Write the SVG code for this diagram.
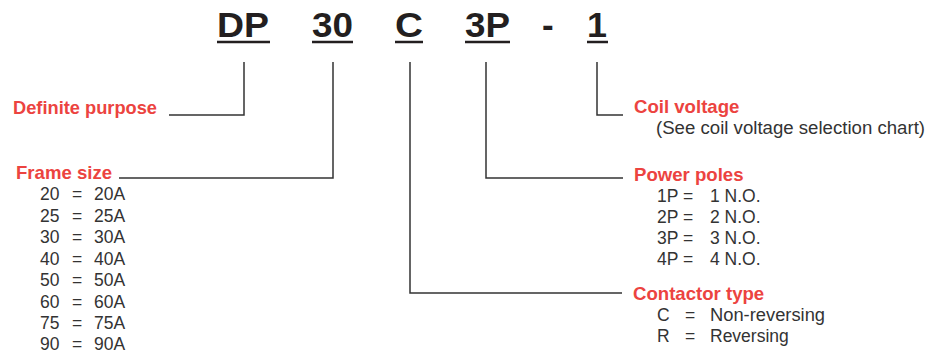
<svg xmlns="http://www.w3.org/2000/svg" width="933" height="353" viewBox="0 0 933 353">
<style>
.code{font-family:"Liberation Sans",Arial,sans-serif;font-size:35px;font-weight:bold;fill:#231f20}
.ul{stroke:#231f20;stroke-width:2.5}
.lbl{font-family:"Liberation Sans",Arial,sans-serif;font-size:18.6px;font-weight:bold;fill:#ec4340}
.t{font-family:"Liberation Sans",Arial,sans-serif;font-size:17.5px;fill:#333}
.c{fill:none;stroke:#333;stroke-width:1.5}
</style>
<rect width="933" height="353" fill="#fff"/>
<g id="header">
<text class="code" x="217" y="37" textLength="52" lengthAdjust="spacingAndGlyphs">DP</text>
<line class="ul" x1="217" y1="42" x2="270" y2="42"/>
<text class="code" x="312" y="37" textLength="41" lengthAdjust="spacingAndGlyphs">30</text>
<line class="ul" x1="312" y1="42" x2="353" y2="42"/>
<text class="code" x="395" y="37" textLength="28" lengthAdjust="spacingAndGlyphs">C</text>
<line class="ul" x1="395" y1="42" x2="423" y2="42"/>
<text class="code" x="465" y="37" textLength="45" lengthAdjust="spacingAndGlyphs">3P</text>
<line class="ul" x1="465" y1="42" x2="510" y2="42"/>
<text class="code" x="542" y="37">-</text>
<text class="code" x="587" y="37" textLength="20" lengthAdjust="spacingAndGlyphs">1</text>
<line class="ul" x1="587" y1="42" x2="608" y2="42"/>
</g>
<g id="connectors">
<polyline class="c" points="244,62 244,115 169,115"/>
<polyline class="c" points="333,62 333,178 119,178"/>
<polyline class="c" points="410,62 410,293 622,293"/>
<polyline class="c" points="486,62 486,178 623,178"/>
<polyline class="c" points="597,62 597,115 623,115"/>
</g>
<g id="definite-purpose">
<text class="lbl" x="13" y="114" textLength="144" lengthAdjust="spacingAndGlyphs">Definite purpose</text>
</g>
<g id="frame-size">
<text class="lbl" x="16" y="179" textLength="96" lengthAdjust="spacingAndGlyphs">Frame size</text>
<g class="t">
<text x="40" y="200">20</text><text x="72" y="200">=</text><text x="94" y="200">20A</text>
<text x="40" y="221.5">25</text><text x="72" y="221.5">=</text><text x="94" y="221.5">25A</text>
<text x="40" y="243">30</text><text x="72" y="243">=</text><text x="94" y="243">30A</text>
<text x="40" y="264.5">40</text><text x="72" y="264.5">=</text><text x="94" y="264.5">40A</text>
<text x="40" y="286">50</text><text x="72" y="286">=</text><text x="94" y="286">50A</text>
<text x="40" y="307.5">60</text><text x="72" y="307.5">=</text><text x="94" y="307.5">60A</text>
<text x="40" y="329">75</text><text x="72" y="329">=</text><text x="94" y="329">75A</text>
<text x="40" y="350">90</text><text x="72" y="350">=</text><text x="94" y="350">90A</text>
</g>
</g>
<g id="coil-voltage">
<text class="lbl" x="634" y="113">Coil voltage</text>
<text class="t" x="656" y="134" textLength="269" lengthAdjust="spacingAndGlyphs">(See coil voltage selection chart)</text>
</g>
<g id="power-poles">
<text class="lbl" x="634" y="181">Power poles</text>
<g class="t">
<text x="657" y="202">1P =</text><text x="710" y="202">1 N.O.</text>
<text x="657" y="223">2P =</text><text x="710" y="223">2 N.O.</text>
<text x="657" y="244">3P =</text><text x="710" y="244">3 N.O.</text>
<text x="657" y="265">4P =</text><text x="710" y="265">4 N.O.</text>
</g>
</g>
<g id="contactor-type">
<text class="lbl" x="633" y="300">Contactor type</text>
<g class="t">
<text x="657" y="321">C</text><text x="685" y="321">=</text><text x="710" y="321" textLength="115" lengthAdjust="spacingAndGlyphs">Non-reversing</text>
<text x="657" y="342">R</text><text x="685" y="342">=</text><text x="710" y="342">Reversing</text>
</g>
</g>
</svg>
